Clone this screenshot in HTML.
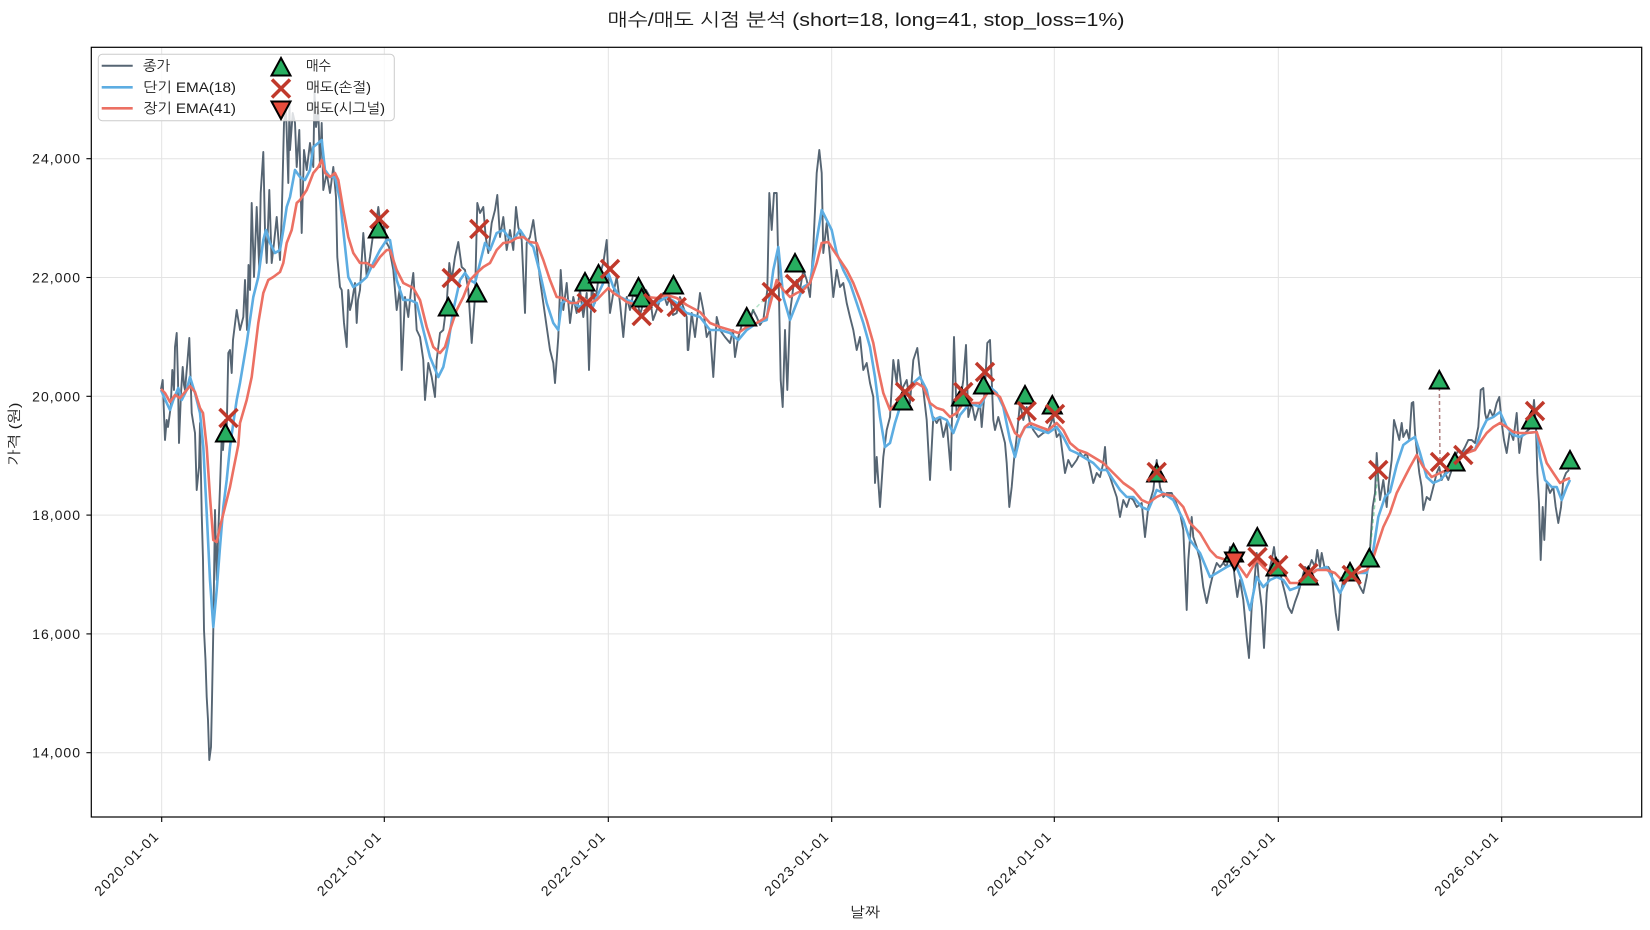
<!DOCTYPE html>
<html><head><meta charset="utf-8"><style>
html,body{margin:0;padding:0;background:#fff;}
svg{display:block;}
text{font-family:"Liberation Sans","NanumGothic","Noto Sans CJK KR",sans-serif;fill:#1a1a1a;}
</style></head><body>
<svg width="1650" height="930" viewBox="0 0 1650 930" xmlns="http://www.w3.org/2000/svg">
<rect x="0" y="0" width="1650" height="930" fill="#fff"/>
<defs><clipPath id="ax"><rect x="91.3" y="47.3" width="1550.4" height="769.7"/></clipPath></defs>
<g stroke="#e3e3e3" stroke-width="1">
<line x1="161.7" y1="47.3" x2="161.7" y2="817"/>
<line x1="384.3" y1="47.3" x2="384.3" y2="817"/>
<line x1="608.3" y1="47.3" x2="608.3" y2="817"/>
<line x1="831.7" y1="47.3" x2="831.7" y2="817"/>
<line x1="1054.3" y1="47.3" x2="1054.3" y2="817"/>
<line x1="1278.3" y1="47.3" x2="1278.3" y2="817"/>
<line x1="1501.7" y1="47.3" x2="1501.7" y2="817"/>
<line x1="91.3" y1="158.7" x2="1641.7" y2="158.7"/>
<line x1="91.3" y1="277.5" x2="1641.7" y2="277.5"/>
<line x1="91.3" y1="396.3" x2="1641.7" y2="396.3"/>
<line x1="91.3" y1="515.1" x2="1641.7" y2="515.1"/>
<line x1="91.3" y1="633.9" x2="1641.7" y2="633.9"/>
<line x1="91.3" y1="752.7" x2="1641.7" y2="752.7"/>
</g>
<g clip-path="url(#ax)" fill="none" stroke-linejoin="round">
<polyline stroke="#566573" stroke-width="1.9" points="161,389 162.7,380 165,440 166.7,420 168,427 170.7,407 172.3,370 174,390 175,347 176.7,333 178,380 179,443 181,393 182.7,367 184,385 185,390 187.3,363 189.3,338 191.7,413 193.3,423 195,433 196.7,490 199,467 200,423 201.7,513 203,560 204,630 205.5,660 206.7,697 208,720 209.3,760 211,747 212,700 213.3,630 215,510 216.7,580 218,540 220,487 221.7,437 223,450 225,420 226.5,440 228.3,353 230,350 231.7,373 233,340 236.7,310 240,330 243.3,317 245,280 247,330 248.5,265 250,290 251.7,203 254,277 256.7,207 259.3,270 260.7,193 263.3,152 265,230 266.7,263 269.3,190 271.7,263 274,243 276.7,217 280,260 281.7,217 284,123 286,110 288.3,183 289.5,100 290,150 292.7,113 295,123 296.7,167 299.3,130 301.7,233 304,150 306.7,170 310,143 313.3,167 314.5,92 316,127 318.3,110 320,167 321.7,123 323.3,190 326.7,173 330,193 333.3,167 336,197 337.3,257 340,287 341.7,290 344,323 346.7,347 348.3,290 350,310 351.7,303 355,283 356.7,323 358,300 360,290 363.3,233 366.7,277 370,257 373.3,233 376,225 378.3,207 381.7,233 384,225 386.7,243 389,247 393.3,270 396.7,310 400,287 401.7,370 405,297 408.3,317 411,290 413.3,273 416.7,330 420,337 423.3,360 425,400 428.3,363 431.7,377 435,397 436.7,360 440,333 443.3,330 446.7,303 449.3,263 451.7,280 455,257 458.3,242 461.7,267 465,270 468.3,290 471.7,343 475,297 477.3,203 480,213 483.3,207 485.7,237 488.3,253 491.7,223 495,210 497.3,195 500,237 503.3,217 506.7,250 510,230 513.3,250 516,207 518.3,227 521.7,240 525,313 526.7,243 530,237 533.3,220 536.7,247 540,280 543.3,303 546.7,327 550,350 553.3,363 555,383 558.3,337 560.7,270 563.3,310 566.7,283 570,323 573.3,297 576.7,313 580,290 583.3,317 586.7,293 589,370 591.7,287 595,303 598.3,280 603.3,263 606.7,240 610,313 613.3,293 616.7,277 620,303 623.3,337 626.7,297 630,310 633,295 636.7,297 640,315 643.3,303 646,290 650,297 653,320 656.7,310 660,300 663.3,293 667,305 670,297 673,315 676.7,313 680,297 683.3,307 686.7,317 687.7,350 688.3,350 691.7,313 695,337 700,293 703.3,310 706.7,337 710,330 713.3,377 716.7,317 720,330 725,337 730,343 733,330 735,357 738.3,337 743.3,320 747,330 750,320 753,310 756.7,317 760,325 763.3,320 767.3,290 769.3,193 771.7,230 774,193 776.7,193 778.3,263 780.7,380 782.7,407 785,330 787.3,390 790,313 793.3,287 796.7,280 800,290 803.3,270 806.7,280 810,297 813.3,247 816.7,173 819.3,150 821.7,173 823.3,253 826.7,223 830,257 833.3,297 836.7,270 840,287 843.3,283 846.7,303 850,317 853.3,330 856.7,350 860,337 863.3,370 866.7,363 870,383 873.3,397 875,483 876.7,457 880,507 883.3,457 886.7,430 890,417 893.3,360 896.7,383 898.3,360 901.7,390 906.7,380 910,403 913.3,360 917.3,348 920,373 923.3,390 926.7,420 930,480 933.3,417 936.7,423 940,417 943.3,437 946.7,423 950.7,470 954,337 956.7,417 960,403 963.3,380 966,345 968.3,417 971.7,403 975,420 980,403 981.7,427 985,387 987.3,343 990,340 991.7,380 993.3,420 995,430 998.3,417 1001.7,430 1005,443 1006.7,463 1009.3,507 1011.7,487 1014,460 1016.7,437 1020,403 1023.3,420 1026.7,407 1030,423 1033.3,430 1038.3,437 1043.3,433 1048.3,430 1053.3,417 1056.7,437 1060,433 1061.7,447 1065,473 1068.3,460 1071.7,467 1076.7,460 1080,453 1083.3,457 1086.7,453 1090,467 1093.3,483 1096.7,473 1100,477 1103.3,463 1105,447 1106.7,470 1110,477 1113.3,487 1116.7,497 1120,517 1123.3,500 1126.7,507 1130,497 1133.3,500 1136.7,507 1141.7,503 1145,537 1148.3,507 1153.3,490 1156.7,460 1160,487 1163.3,497 1166.7,493 1171.7,493 1175,500 1180,513 1183.3,530 1186.7,610 1188.3,560 1191.7,517 1193.3,537 1196.7,547 1200,560 1203.3,587 1206.7,603 1210,587 1213.3,573 1216.7,563 1220,567 1223.3,563 1226.7,567 1230,547 1232.7,560 1235,580 1237.3,597 1240,580 1243.3,600 1246.7,637 1249,658 1251.7,607 1254,587 1256.7,553 1259.3,587 1261.7,607 1264,648 1266.7,593 1269.3,570 1271.7,560 1274,547 1276,563 1278.3,560 1281.7,580 1285,593 1288.3,607 1291.7,613 1295,602 1298.3,593 1301.7,580 1305,567 1308.3,570 1311.7,560 1315,567 1317.3,550 1320,567 1321.7,553 1325,570 1328.3,567 1331.7,573 1333.3,590 1335.7,613 1338.3,630 1340.7,593 1343.3,580 1346.7,573 1350,570 1353.3,577 1356.7,580 1360,587 1363.3,593 1366.7,577 1370,550 1372.7,507 1375,493 1376.7,453 1378.3,480 1380,500 1383.3,480 1386.7,507 1388.3,487 1391.7,460 1394,420 1396.7,430 1399.3,440 1401.7,423 1403.3,437 1406.7,430 1409.3,440 1411.7,403 1413.3,402 1415,433 1416.7,450 1419.3,473 1421.7,487 1423.3,510 1426.7,497 1430,500 1433.3,487 1436.7,473 1439.3,467 1441.7,480 1445,473 1448.3,480 1451.7,470 1455,457 1458.3,450 1461.7,453 1465,447 1468.3,440 1471.7,440 1475,443 1478.3,427 1480.7,390 1483.3,388 1485,413 1486.7,420 1490,410 1493.3,417 1496.7,403 1499.3,397 1501.7,423 1504,440 1506.7,453 1510,430 1513.3,440 1516.7,413 1519.3,453 1521.7,437 1525,433 1528.3,430 1531.7,427 1534,400 1536,427 1537.3,473 1539,503 1540.7,560 1542.7,507 1544.3,540 1546.7,483 1550,493 1553.3,487 1555.7,507 1558.3,523 1561,507 1563.3,480 1566,473 1569,470"/>
<polyline stroke="#5dade2" stroke-width="2.6" points="161,390 166.7,403 170,410 173.3,400 178.3,388 181.7,400 186.7,390 190,377 195,393 200,413 203.3,447 206.7,513 210,580 213.3,627 216.7,590 220,547 223.3,507 226.7,480 230,447 233.3,423 236.7,400 240,383 246.7,343 253.3,297 258.3,277 263.3,240 266,230 270,243 275,253 280,250 283.3,230 286.7,207 290,197 295,170 300,177 305,180 310,170 313.3,147 318.3,143 321.7,140 325,170 330,177 335,177 340,200 344,237 348.3,277 353.3,287 360,283 366.7,277 373.3,263 380,250 386.7,240 390,240 396.7,280 403.3,300 410,300 416.7,303 423.3,330 430,357 438.3,377 443.3,367 448.3,343 453.3,310 460,280 465,273 470,280 475,283 480,263 485,243 490,250 496.7,233 503.3,230 508.3,237 513.3,240 520,230 526.7,240 533.3,247 540,273 546.7,303 553.3,323 558.3,330 561.7,303 566.7,300 573.3,303 580,307 586.7,300 591.7,310 596.7,297 603.3,283 608.3,273 613.3,287 620,297 626.7,300 636.7,303 646.7,300 656.7,303 666.7,297 676.7,303 686.7,313 700,317 710,330 720,330 730,333 738.3,340 746.7,330 756.7,323 766.7,320 773.3,270 778.3,247 783.3,297 790,320 796.7,303 803.3,287 810,283 816.7,240 821.7,210 826.7,220 831.7,230 836.7,253 843.3,270 850,283 856.7,303 863.3,323 870,347 875,377 880,417 885,447 890,443 895,423 900,407 906.7,393 913.3,383 920,377 926.7,390 933.3,420 940,417 946.7,420 953.3,433 960,415 970,403 980,407 990,387 996.7,393 1003.3,407 1010,440 1015,457 1020,437 1025,427 1031.7,427 1040,430 1048.3,433 1056.7,427 1063.3,437 1070,450 1076.7,453 1083.3,457 1093.3,463 1100,470 1106.7,470 1113.3,480 1120,490 1126.7,497 1133.3,497 1141.7,507 1148.3,510 1156.7,490 1163.3,493 1173.3,500 1183.3,520 1190,540 1200,553 1210,577 1216.7,573 1226.7,567 1235,563 1241.7,580 1250,610 1256.7,577 1263.3,587 1270,580 1276.7,577 1283.3,580 1290,590 1298.3,587 1306.7,577 1316.7,570 1326.7,567 1333.3,580 1340,593 1346.7,580 1356.7,573 1366.7,573 1373.3,550 1378.3,517 1385,497 1390,492 1396.7,465 1403.3,445 1410,440 1415,437 1420,453 1426.7,477 1433.3,483 1440,480 1446.7,473 1453.3,467 1460,457 1466.7,450 1475,450 1481.7,430 1486.7,420 1493.3,417 1500,412 1506.7,427 1513.3,435 1520,437 1526.7,433 1536.7,432 1540,457 1545,480 1551.7,487 1556.7,487 1561.7,500 1566.7,487 1570,480"/>
<polyline stroke="#ec7063" stroke-width="2.6" points="161,389 165,393 170,402 175,395 180,398 185,392 190,386 195,392 200,408 203,413 206.7,447 210,497 213.3,540 216.7,542 220,527 225,507 230,487 233.3,470 238.3,445 240,423 246.7,400 251.7,377 255,350 258.3,323 263.3,293 268.3,280 273.3,277 280,272 283.3,263 286.7,243 291.7,230 296.7,203 300,200 306.7,190 313.3,173 318.3,167 321.7,160 325,173 330,177 335,173 338.3,180 343.3,210 348.3,237 353.3,253 360,263 366.7,263 373.3,267 380,257 386.7,250 390,250 396.7,270 403.3,283 413.3,288 420,300 426.7,327 433.3,347 440,353 445,347 450,330 456.7,310 463.3,297 470,280 476.7,273 483.3,267 490,263 496.7,250 503.3,243 510,242 516.7,238 523.3,237 530,242 536.7,243 543.3,260 550,280 556.7,297 563.3,298 570,303 576.7,303 583.3,298 590,303 596.7,300 603.3,293 608.3,288 613.3,293 620,297 626.7,302 636.7,305 646.7,297 656.7,298 666.7,295 676.7,298 686.7,305 700,312 710,323 720,327 730,330 738.3,333 746.7,327 756.7,323 766.7,317 776.7,280 783.3,290 790,297 796.7,293 803.3,290 810,283 816.7,263 821.7,243 828.3,242 833.3,250 840,260 846.7,270 853.3,283 860,300 866.7,320 873.3,343 878.3,370 883.3,393 890,410 896.7,403 903.3,393 910,390 916.7,383 923.3,387 930,403 936.7,408 943.3,410 950,417 956.7,413 963.3,403 970,403 980,403 990,390 1000,397 1006.7,413 1015,433 1020,437 1025,427 1030,423 1040,427 1048.3,430 1056.7,423 1063.3,430 1070,443 1078.3,450 1086.7,453 1093.3,457 1103.3,463 1113.3,473 1123.3,483 1133.3,490 1141.7,500 1148.3,503 1156.7,497 1163.3,494 1173.3,496 1183.3,507 1190,523 1200,533 1210,550 1216.7,557 1226.7,560 1236.7,563 1246.7,577 1256.7,560 1263.3,567 1270,573 1276.7,570 1283.3,573 1290,583 1298.3,583 1306.7,577 1316.7,570 1326.7,570 1335,573 1341.7,580 1350,577 1358.3,573 1366.7,570 1371.7,563 1376.7,547 1383.3,527 1390,513 1396.7,493 1403.3,480 1410,467 1416.7,455 1423.3,467 1431.7,477 1440,473 1446.7,470 1453.3,463 1460,457 1466.7,453 1475,450 1481.7,440 1486.7,433 1493.3,427 1500,423 1506.7,427 1513.3,432 1520,433 1526.7,433 1536.7,432 1541.7,447 1546.7,463 1553.3,473 1560,483 1565,480 1570,478"/>
<line x1="746.7" y1="317" x2="771.7" y2="292" stroke="#27ae60" stroke-opacity="0.35" stroke-width="1.5" stroke-dasharray="4,3"/>
<line x1="1369.3" y1="558" x2="1378.3" y2="470" stroke="#27ae60" stroke-opacity="0.5" stroke-width="1.5" stroke-dasharray="4,3"/>
<line x1="1439.3" y1="380" x2="1440" y2="462" stroke="#8e4b4b" stroke-opacity="0.7" stroke-width="1.5" stroke-dasharray="4,3"/>
</g>
<g fill="#27ae60" stroke="#000" stroke-width="2" stroke-linejoin="miter">
<path d="M0,-9 L9.5,8.5 L-9.5,8.5 Z" transform="translate(225.5,433)"/>
<path d="M0,-9 L9.5,8.5 L-9.5,8.5 Z" transform="translate(378.3,229)"/>
<path d="M0,-9 L9.5,8.5 L-9.5,8.5 Z" transform="translate(448.3,307)"/>
<path d="M0,-9 L9.5,8.5 L-9.5,8.5 Z" transform="translate(476.7,293)"/>
<path d="M0,-9 L9.5,8.5 L-9.5,8.5 Z" transform="translate(585,282)"/>
<path d="M0,-9 L9.5,8.5 L-9.5,8.5 Z" transform="translate(598.5,274)"/>
<path d="M0,-9 L9.5,8.5 L-9.5,8.5 Z" transform="translate(638.5,287)"/>
<path d="M0,-9 L9.5,8.5 L-9.5,8.5 Z" transform="translate(641.7,298)"/>
<path d="M0,-9 L9.5,8.5 L-9.5,8.5 Z" transform="translate(673.5,285)"/>
<path d="M0,-9 L9.5,8.5 L-9.5,8.5 Z" transform="translate(746.7,317)"/>
<path d="M0,-9 L9.5,8.5 L-9.5,8.5 Z" transform="translate(795,263)"/>
<path d="M0,-9 L9.5,8.5 L-9.5,8.5 Z" transform="translate(902.5,401)"/>
<path d="M0,-9 L9.5,8.5 L-9.5,8.5 Z" transform="translate(961.5,397)"/>
<path d="M0,-9 L9.5,8.5 L-9.5,8.5 Z" transform="translate(983.5,385)"/>
<path d="M0,-9 L9.5,8.5 L-9.5,8.5 Z" transform="translate(1025,395)"/>
<path d="M0,-9 L9.5,8.5 L-9.5,8.5 Z" transform="translate(1052.3,405)"/>
<path d="M0,-9 L9.5,8.5 L-9.5,8.5 Z" transform="translate(1156.7,473)"/>
<path d="M0,-9 L9.5,8.5 L-9.5,8.5 Z" transform="translate(1233.5,553)"/>
<path d="M0,-9 L9.5,8.5 L-9.5,8.5 Z" transform="translate(1257.3,537)"/>
<path d="M0,-9 L9.5,8.5 L-9.5,8.5 Z" transform="translate(1276,567)"/>
<path d="M0,-9 L9.5,8.5 L-9.5,8.5 Z" transform="translate(1308.3,576)"/>
<path d="M0,-9 L9.5,8.5 L-9.5,8.5 Z" transform="translate(1350,572)"/>
<path d="M0,-9 L9.5,8.5 L-9.5,8.5 Z" transform="translate(1369.3,558)"/>
<path d="M0,-9 L9.5,8.5 L-9.5,8.5 Z" transform="translate(1439.3,380)"/>
<path d="M0,-9 L9.5,8.5 L-9.5,8.5 Z" transform="translate(1455,462)"/>
<path d="M0,-9 L9.5,8.5 L-9.5,8.5 Z" transform="translate(1531.7,420)"/>
<path d="M0,-9 L9.5,8.5 L-9.5,8.5 Z" transform="translate(1570,460)"/>
</g>
<g stroke="#c0392b" stroke-width="3.5" fill="none">
<path d="M-9,-9 L9,9 M-9,9 L9,-9" transform="translate(228.5,418)"/>
<path d="M-9,-9 L9,9 M-9,9 L9,-9" transform="translate(379.3,219)"/>
<path d="M-9,-9 L9,9 M-9,9 L9,-9" transform="translate(451.7,278)"/>
<path d="M-9,-9 L9,9 M-9,9 L9,-9" transform="translate(479.3,229)"/>
<path d="M-9,-9 L9,9 M-9,9 L9,-9" transform="translate(586.7,303)"/>
<path d="M-9,-9 L9,9 M-9,9 L9,-9" transform="translate(610,269)"/>
<path d="M-9,-9 L9,9 M-9,9 L9,-9" transform="translate(641.7,316)"/>
<path d="M-9,-9 L9,9 M-9,9 L9,-9" transform="translate(653.3,303)"/>
<path d="M-9,-9 L9,9 M-9,9 L9,-9" transform="translate(676.7,307)"/>
<path d="M-9,-9 L9,9 M-9,9 L9,-9" transform="translate(771.7,292)"/>
<path d="M-9,-9 L9,9 M-9,9 L9,-9" transform="translate(795,284)"/>
<path d="M-9,-9 L9,9 M-9,9 L9,-9" transform="translate(905,392)"/>
<path d="M-9,-9 L9,9 M-9,9 L9,-9" transform="translate(963.3,392)"/>
<path d="M-9,-9 L9,9 M-9,9 L9,-9" transform="translate(985,372)"/>
<path d="M-9,-9 L9,9 M-9,9 L9,-9" transform="translate(1026.7,411)"/>
<path d="M-9,-9 L9,9 M-9,9 L9,-9" transform="translate(1055,414)"/>
<path d="M-9,-9 L9,9 M-9,9 L9,-9" transform="translate(1156.7,472)"/>
<path d="M-9,-9 L9,9 M-9,9 L9,-9" transform="translate(1257.5,557)"/>
<path d="M-9,-9 L9,9 M-9,9 L9,-9" transform="translate(1278.3,565)"/>
<path d="M-9,-9 L9,9 M-9,9 L9,-9" transform="translate(1308.3,573)"/>
<path d="M-9,-9 L9,9 M-9,9 L9,-9" transform="translate(1351.7,575)"/>
<path d="M-9,-9 L9,9 M-9,9 L9,-9" transform="translate(1378.3,470)"/>
<path d="M-9,-9 L9,9 M-9,9 L9,-9" transform="translate(1440,462)"/>
<path d="M-9,-9 L9,9 M-9,9 L9,-9" transform="translate(1463.3,455)"/>
<path d="M-9,-9 L9,9 M-9,9 L9,-9" transform="translate(1535,411)"/>
</g>
<path d="M0,9 L9.5,-8.5 L-9.5,-8.5 Z" transform="translate(1234.5,561)" fill="#e74c3c" stroke="#000" stroke-width="2"/>
<rect x="91.3" y="47.3" width="1550.4" height="769.7" fill="none" stroke="#000" stroke-width="1.2"/>
<g stroke="#000" stroke-width="1.1">
<line x1="86.4" y1="158.7" x2="91.3" y2="158.7"/>
<line x1="86.4" y1="277.5" x2="91.3" y2="277.5"/>
<line x1="86.4" y1="396.3" x2="91.3" y2="396.3"/>
<line x1="86.4" y1="515.1" x2="91.3" y2="515.1"/>
<line x1="86.4" y1="633.9" x2="91.3" y2="633.9"/>
<line x1="86.4" y1="752.7" x2="91.3" y2="752.7"/>
<line x1="161.7" y1="817" x2="161.7" y2="822"/>
<line x1="384.3" y1="817" x2="384.3" y2="822"/>
<line x1="608.3" y1="817" x2="608.3" y2="822"/>
<line x1="831.7" y1="817" x2="831.7" y2="822"/>
<line x1="1054.3" y1="817" x2="1054.3" y2="822"/>
<line x1="1278.3" y1="817" x2="1278.3" y2="822"/>
<line x1="1501.7" y1="817" x2="1501.7" y2="822"/>
</g>
<g font-size="14" text-anchor="end">
<text x="81" y="163.7" letter-spacing="1">24,000</text>
<text x="81" y="282.5" letter-spacing="1">22,000</text>
<text x="81" y="401.3" letter-spacing="1">20,000</text>
<text x="81" y="520.1" letter-spacing="1">18,000</text>
<text x="81" y="638.9" letter-spacing="1">16,000</text>
<text x="81" y="757.7" letter-spacing="1">14,000</text>
</g>
<g font-size="14" text-anchor="end" letter-spacing="1.3">
<text transform="translate(160,837) rotate(-45)">2020-01-01</text>
<text transform="translate(382.6,837) rotate(-45)">2021-01-01</text>
<text transform="translate(606.6,837) rotate(-45)">2022-01-01</text>
<text transform="translate(830,837) rotate(-45)">2023-01-01</text>
<text transform="translate(1052.6,837) rotate(-45)">2024-01-01</text>
<text transform="translate(1276.6,837) rotate(-45)">2025-01-01</text>
<text transform="translate(1500,837) rotate(-45)">2026-01-01</text>
</g>
<text x="865" y="917" font-size="14" text-anchor="middle" textLength="30" lengthAdjust="spacingAndGlyphs">날짜</text>
<text transform="translate(19,434) rotate(-90)" font-size="14" text-anchor="middle" textLength="63" lengthAdjust="spacingAndGlyphs">가격 (원)</text>
<text x="866" y="26" font-size="18" text-anchor="middle" textLength="517" lengthAdjust="spacingAndGlyphs">매수/매도 시점 분석 (short=18, long=41, stop_loss=1%)</text>
<rect x="98.3" y="54.3" width="296" height="66.4" rx="4" ry="4" fill="#fff" fill-opacity="0.8" stroke="#cccccc" stroke-width="1"/>
<line x1="101.7" y1="65.7" x2="132.7" y2="65.7" stroke="#566573" stroke-width="2"/>
<line x1="101.7" y1="87.3" x2="132.7" y2="87.3" stroke="#5dade2" stroke-width="2.6"/>
<line x1="101.7" y1="108.3" x2="132.7" y2="108.3" stroke="#ec7063" stroke-width="2.6"/>
<g font-size="14">
<text x="143" y="70.5" textLength="27" lengthAdjust="spacingAndGlyphs">종가</text>
<text x="143" y="92.1" textLength="93" lengthAdjust="spacingAndGlyphs">단기 EMA(18)</text>
<text x="143" y="113.1" textLength="93" lengthAdjust="spacingAndGlyphs">장기 EMA(41)</text>
<text x="306" y="70.5" textLength="25" lengthAdjust="spacingAndGlyphs">매수</text>
<text x="306" y="92.1" textLength="65" lengthAdjust="spacingAndGlyphs">매도(손절)</text>
<text x="306" y="113.1" textLength="79" lengthAdjust="spacingAndGlyphs">매도(시그널)</text>
</g>
<path d="M0,-9 L9.5,8.5 L-9.5,8.5 Z" transform="translate(281,67)" fill="#27ae60" stroke="#000" stroke-width="2"/>
<path d="M-9,-9 L9,9 M-9,9 L9,-9" transform="translate(281,88.5)" stroke="#c0392b" stroke-width="3.5" fill="none"/>
<path d="M0,9 L9.5,-8.5 L-9.5,-8.5 Z" transform="translate(281,110)" fill="#e74c3c" stroke="#000" stroke-width="2"/>
</svg>
</body></html>
